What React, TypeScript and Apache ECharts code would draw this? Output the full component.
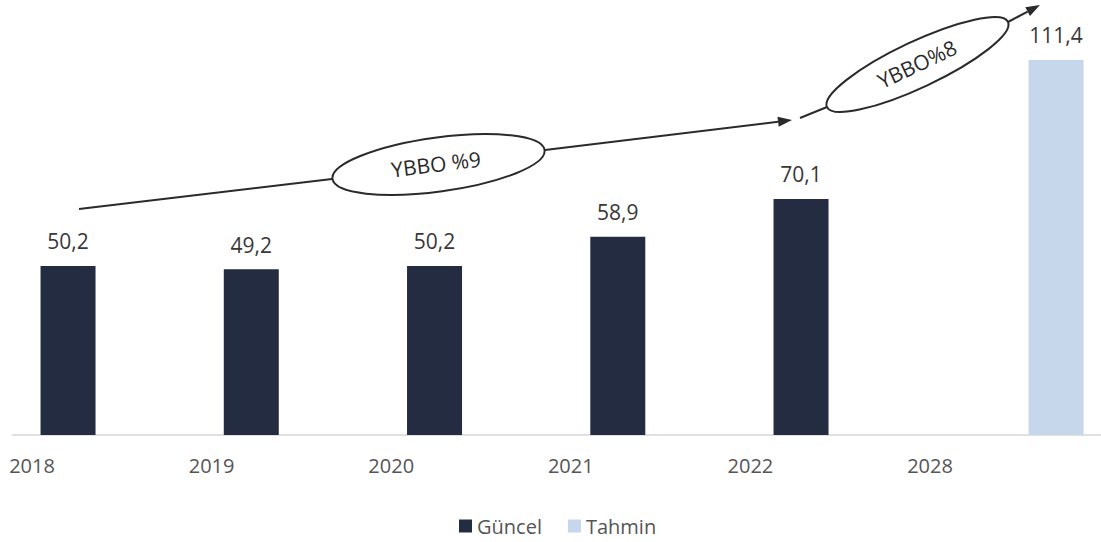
import React, { useEffect, useRef } from "react";
import * as echarts from "echarts";

const years = ["2018", "2019", "2020", "2021", "2022", "2028"];
const guncel: (number | null)[] = [50.2, 49.2, 50.2, 58.9, 70.1, null];
const tahmin: (number | null)[] = [null, null, null, null, null, 111.4];
const seriesNames = ["Güncel", "Tahmin"];
const growthLabels = ["YBBO %9", "YBBO%8"];

const FONT = "'Open Sans', 'DejaVu Sans', sans-serif";
const NAVY = "#232c40";
const LIGHT = "#c6d6eb";
const INK = "#2a2a2a";

function arrowHead(tx: number, ty: number, fx: number, fy: number, len = 14, half = 5) {
  const dx = tx - fx;
  const dy = ty - fy;
  const d = Math.hypot(dx, dy);
  const ux = dx / d;
  const uy = dy / d;
  const bx = tx - ux * len;
  const by = ty - uy * len;
  const px = -uy;
  const py = ux;
  return {
    base: [bx, by],
    points: [
      [tx, ty],
      [bx + px * half, by + py * half],
      [bx - px * half, by - py * half],
    ],
  };
}

export default function App() {
  const ref = useRef<HTMLDivElement>(null);
  useEffect(() => {
    if (!ref.current) return;
    const chart = echarts.init(ref.current, undefined, { renderer: "svg" });

    const a1 = arrowHead(792, 120, 545, 150);
    const a2 = arrowHead(1040, 5, 1008, 22);
    const lineStyle = { stroke: INK, lineWidth: 2 };

    const fmt = (p: any) => String(p.value).replace(".", ",");
    const valueLabel = {
      show: true,
      position: "top",
      distance: 14,
      color: "#383838",
      fontSize: 21,
      fontFamily: FONT,
      formatter: fmt,
    };

    chart.setOption({
      animation: false,
      backgroundColor: "#ffffff",
      textStyle: { fontFamily: FONT },
      grid: [
        { left: 12.3, width: 1099.5, top: 31, bottom: 107, containLabel: false, outerBoundsMode: "none" },
        { left: -57.8, width: 1077.6, top: 31, bottom: 107, containLabel: false, outerBoundsMode: "none" },
      ],
      xAxis: [
        {
          type: "category",
          gridIndex: 0,
          data: years,
          axisLine: { show: true, lineStyle: { color: "#d6d6d6", width: 1.5 } },
          axisTick: { show: false },
          axisLabel: { show: false },
        },
        {
          type: "category",
          gridIndex: 1,
          data: years,
          axisLine: { show: false },
          axisTick: { show: false },
          axisLabel: { color: "#555555", fontSize: 20, fontFamily: FONT, margin: 20 },
        },
      ],
      yAxis: [
        { type: "value", gridIndex: 0, min: 0, max: 120, show: false },
        { type: "value", gridIndex: 1, min: 0, max: 1, show: false },
      ],
      legend: {
        data: seriesNames,
        left: 454,
        top: 511,
        itemWidth: 13,
        itemHeight: 13,
        itemGap: 26,
        icon: "rect",
        textStyle: { color: "#555555", fontSize: 20, fontFamily: FONT },
      },
      series: [
        {
          name: seriesNames[0],
          type: "bar",
          xAxisIndex: 0,
          yAxisIndex: 0,
          data: guncel,
          barWidth: 55,
          barGap: "30.5%",
          clip: false,
          itemStyle: { color: NAVY },
          label: valueLabel,
        },
        {
          name: seriesNames[1],
          type: "bar",
          xAxisIndex: 0,
          yAxisIndex: 0,
          data: tahmin,
          barWidth: 55,
          barGap: "30.5%",
          clip: false,
          itemStyle: { color: LIGHT },
          label: valueLabel,
        },
      ],
      graphic: [
        { type: "line", shape: { x1: 79, y1: 209, x2: 332, y2: 179 }, style: lineStyle },
        { type: "line", shape: { x1: 545, y1: 150, x2: a1.base[0], y2: a1.base[1] }, style: lineStyle },
        { type: "polygon", shape: { points: a1.points }, style: { fill: INK } },
        {
          type: "ellipse",
          x: 438.5,
          y: 164.5,
          rotation: (7.75 * Math.PI) / 180,
          shape: { cx: 0, cy: 0, rx: 107, ry: 27 },
          style: { fill: "#ffffff", stroke: INK, lineWidth: 2 },
        },
        {
          type: "text",
          x: 436,
          y: 164,
          rotation: (7 * Math.PI) / 180,
          style: {
            text: growthLabels[0],
            fill: INK,
            fontSize: 21,
            fontFamily: FONT,
            align: "center",
            verticalAlign: "middle",
          },
        },
        { type: "line", shape: { x1: 800, y1: 118, x2: 827, y2: 107 }, style: lineStyle },
        { type: "line", shape: { x1: 1008, y1: 22, x2: a2.base[0], y2: a2.base[1] }, style: lineStyle },
        { type: "polygon", shape: { points: a2.points }, style: { fill: INK } },
        {
          type: "ellipse",
          x: 917.5,
          y: 64.5,
          rotation: (25.2 * Math.PI) / 180,
          shape: { cx: 0, cy: 0, rx: 100, ry: 23 },
          style: { fill: "#ffffff", stroke: INK, lineWidth: 2 },
        },
        {
          type: "text",
          x: 917,
          y: 64,
          rotation: (25.2 * Math.PI) / 180,
          style: {
            text: growthLabels[1],
            fill: INK,
            fontSize: 21,
            fontFamily: FONT,
            align: "center",
            verticalAlign: "middle",
          },
        },
      ],
    });
    return () => chart.dispose();
  }, []);

  return (
    <div
      ref={ref}
      style={{ position: "fixed", left: 0, top: 0, width: 1101, height: 542 }}
    />
  );
}
